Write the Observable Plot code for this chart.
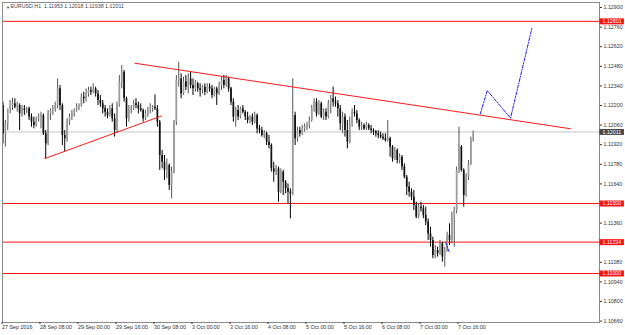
<!DOCTYPE html>
<html><head><meta charset="utf-8">
<script src="https://cdn.jsdelivr.net/npm/d3@7"></script>
<script src="https://cdn.jsdelivr.net/npm/@observablehq/plot@0.6"></script>
<style>html,body{margin:0;padding:0;background:#fff;} #chart svg{display:block}</style>
</head><body><div id="chart"></div>
<script>
// EURUSD H1 bars, 27 Sep 2016 16:00 -> 7 Oct 2016 22:00 (one value per hourly bar)
const open = [
1.12200,1.11998,1.12069,1.12176,1.12200,1.12212,1.12188,1.12200,1.12140,1.12176,
1.12164,1.12176,1.12117,1.12081,1.12057,1.12105,1.12117,1.12129,1.11998,1.11926,
1.12140,1.12164,1.12176,1.12200,1.12319,1.12200,1.11986,1.11962,1.12081,1.12117,
1.12140,1.12164,1.12188,1.12200,1.12260,1.12248,1.12283,1.12307,1.12295,1.12319,
1.12283,1.12236,1.12212,1.12176,1.12152,1.12129,1.12176,1.12105,1.12021,1.12200,
1.12367,1.12438,1.12248,1.12105,1.12164,1.12176,1.12212,1.12200,1.12176,1.12164,
1.12105,1.12140,1.12164,1.12176,1.12188,1.12176,1.12081,1.11843,1.11795,1.11736,
1.11771,1.11629,1.11724,1.12081,1.12379,1.12390,1.12283,1.12367,1.12331,1.12390,
1.12343,1.12319,1.12355,1.12319,1.12307,1.12331,1.12295,1.12331,1.12319,1.12271,
1.12319,1.12283,1.12343,1.12379,1.12343,1.12390,1.12319,1.12224,1.12117,1.12164,
1.12117,1.12176,1.12152,1.12117,1.12093,1.12117,1.12081,1.12129,1.12033,1.12021,
1.11986,1.11998,1.11938,1.11914,1.11748,1.11724,1.11748,1.11581,1.11724,1.11652,
1.11605,1.11581,1.11569,1.12129,1.11962,1.12021,1.11998,1.12033,1.12045,1.12057,
1.12093,1.12176,1.12224,1.12140,1.12212,1.12117,1.12152,1.12117,1.12212,1.12248,
1.12224,1.12212,1.12176,1.12069,1.12117,1.12021,1.11938,1.12069,1.12152,1.12140,
1.12093,1.12045,1.12057,1.12033,1.12057,1.12033,1.12021,1.12010,1.11998,1.11986,
1.11974,1.11962,1.11950,1.11962,1.11902,1.11819,1.11879,1.11807,1.11831,1.11760,
1.11688,1.11617,1.11581,1.11545,1.11486,1.11402,1.11474,1.11462,1.11414,1.11367,
1.11283,1.11236,1.11129,1.11164,1.11141,1.11212,1.11117,1.11164,1.11272,1.11236,
1.11414,1.11450,1.11736,1.11902,1.11736,1.11557,1.11688,1.11783,1.11953];
const high = [
1.12224,1.12093,1.12129,1.12236,1.12252,1.12248,1.12224,1.12212,1.12200,1.12200,
1.12188,1.12188,1.12140,1.12117,1.12117,1.12140,1.12152,1.12140,1.12021,1.12164,
1.12176,1.12200,1.12224,1.12390,1.12343,1.12212,1.12021,1.12105,1.12140,1.12164,
1.12176,1.12212,1.12212,1.12283,1.12295,1.12319,1.12331,1.12331,1.12355,1.12331,
1.12307,1.12271,1.12236,1.12200,1.12176,1.12200,1.12212,1.12140,1.12224,1.12414,
1.12486,1.12450,1.12260,1.12200,1.12200,1.12236,1.12248,1.12224,1.12212,1.12176,
1.12164,1.12188,1.12212,1.12200,1.12276,1.12200,1.12093,1.11879,1.11843,1.11819,
1.11783,1.11760,1.12093,1.12414,1.12510,1.12426,1.12402,1.12414,1.12426,1.12438,
1.12390,1.12379,1.12367,1.12355,1.12343,1.12355,1.12355,1.12355,1.12343,1.12331,
1.12331,1.12367,1.12402,1.12414,1.12414,1.12402,1.12331,1.12248,1.12188,1.12200,
1.12188,1.12200,1.12164,1.12152,1.12129,1.12140,1.12152,1.12140,1.12057,1.12045,
1.12021,1.12010,1.11986,1.11926,1.11795,1.11771,1.11760,1.11748,1.11736,1.11664,
1.11640,1.11605,1.12390,1.12152,1.12045,1.12045,1.12057,1.12069,1.12081,1.12117,
1.12200,1.12248,1.12248,1.12236,1.12224,1.12176,1.12176,1.12236,1.12272,1.12331,
1.12260,1.12236,1.12200,1.12152,1.12140,1.12093,1.12117,1.12176,1.12200,1.12164,
1.12105,1.12081,1.12069,1.12081,1.12069,1.12057,1.12033,1.12021,1.12021,1.12010,
1.11998,1.11998,1.12093,1.11974,1.11914,1.11902,1.11890,1.11855,1.11843,1.11783,
1.11700,1.11652,1.11605,1.11593,1.11510,1.11498,1.11510,1.11486,1.11474,1.11391,
1.11331,1.11260,1.11200,1.11188,1.11236,1.11224,1.11188,1.11295,1.11355,1.11438,
1.11474,1.11760,1.12045,1.11914,1.11748,1.11712,1.11807,1.11974,1.12018];
const low = [
1.11926,1.11902,1.12021,1.12140,1.12164,1.12176,1.12152,1.12021,1.12117,1.12129,
1.12140,1.12093,1.12045,1.12033,1.12045,1.12081,1.12033,1.11986,1.11819,1.11914,
1.12093,1.12129,1.12152,1.12176,1.12164,1.11914,1.11867,1.11938,1.12057,1.12093,
1.12117,1.12152,1.12164,1.12188,1.12212,1.12224,1.12260,1.12271,1.12283,1.12260,
1.12200,1.12188,1.12140,1.12117,1.12105,1.12117,1.12081,1.11974,1.11998,1.12188,
1.12319,1.12224,1.12045,1.12081,1.12140,1.12164,1.12176,1.12140,1.12152,1.12081,
1.12093,1.12117,1.12140,1.12152,1.12164,1.12045,1.11736,1.11748,1.11664,1.11676,
1.11593,1.11533,1.11712,1.12057,1.12331,1.12248,1.12271,1.12307,1.12283,1.12319,
1.12271,1.12295,1.12295,1.12260,1.12283,1.12271,1.12283,1.12295,1.12248,1.12260,
1.12200,1.12271,1.12307,1.12319,1.12331,1.12295,1.12200,1.12081,1.12045,1.12093,
1.12105,1.12140,1.12093,1.12069,1.12069,1.12057,1.12069,1.11998,1.11998,1.11974,
1.11962,1.11914,1.11890,1.11724,1.11652,1.11700,1.11510,1.11569,1.11557,1.11569,
1.11498,1.11390,1.11557,1.11914,1.11938,1.11974,1.11986,1.12010,1.12021,1.12033,
1.12081,1.12152,1.12117,1.12129,1.12105,1.12093,1.12093,1.12105,1.12140,1.12188,
1.12188,1.12117,1.12021,1.11998,1.11974,1.11890,1.11926,1.12045,1.12117,1.12069,
1.12021,1.12021,1.12021,1.12021,1.12021,1.11998,1.11986,1.11974,1.11962,1.11962,
1.11950,1.11938,1.11938,1.11831,1.11795,1.11807,1.11783,1.11783,1.11736,1.11676,
1.11557,1.11545,1.11521,1.11450,1.11391,1.11391,1.11438,1.11391,1.11343,1.11236,
1.11188,1.11105,1.11105,1.11117,1.11129,1.11081,1.11045,1.11152,1.11200,1.11212,
1.11188,1.11426,1.11712,1.11724,1.11474,1.11545,1.11664,1.11771,1.11938];
const close = [
1.11998,1.12069,1.12176,1.12200,1.12212,1.12188,1.12200,1.12140,1.12176,1.12164,
1.12176,1.12117,1.12081,1.12057,1.12105,1.12117,1.12129,1.11998,1.11926,1.12140,
1.12164,1.12176,1.12200,1.12319,1.12200,1.11986,1.11962,1.12081,1.12117,1.12140,
1.12164,1.12188,1.12200,1.12260,1.12248,1.12283,1.12307,1.12295,1.12319,1.12283,
1.12236,1.12212,1.12176,1.12152,1.12129,1.12176,1.12105,1.12021,1.12200,1.12367,
1.12438,1.12248,1.12105,1.12164,1.12176,1.12212,1.12200,1.12176,1.12164,1.12105,
1.12140,1.12164,1.12176,1.12188,1.12176,1.12081,1.11843,1.11795,1.11736,1.11771,
1.11629,1.11724,1.12081,1.12379,1.12390,1.12283,1.12367,1.12331,1.12390,1.12343,
1.12319,1.12355,1.12319,1.12307,1.12331,1.12295,1.12331,1.12319,1.12271,1.12319,
1.12283,1.12343,1.12379,1.12343,1.12390,1.12319,1.12224,1.12117,1.12164,1.12117,
1.12176,1.12152,1.12117,1.12093,1.12117,1.12081,1.12129,1.12033,1.12021,1.11986,
1.11998,1.11938,1.11914,1.11748,1.11724,1.11748,1.11581,1.11724,1.11652,1.11605,
1.11581,1.11569,1.12129,1.11962,1.12021,1.11998,1.12033,1.12045,1.12057,1.12093,
1.12176,1.12224,1.12140,1.12212,1.12117,1.12152,1.12117,1.12212,1.12248,1.12224,
1.12212,1.12176,1.12069,1.12117,1.12021,1.11938,1.12069,1.12152,1.12140,1.12093,
1.12045,1.12057,1.12033,1.12057,1.12033,1.12021,1.12010,1.11998,1.11986,1.11974,
1.11962,1.11950,1.11962,1.11902,1.11819,1.11879,1.11807,1.11831,1.11760,1.11688,
1.11617,1.11581,1.11545,1.11486,1.11402,1.11474,1.11462,1.11414,1.11367,1.11283,
1.11236,1.11129,1.11164,1.11141,1.11212,1.11117,1.11164,1.11272,1.11236,1.11414,
1.11450,1.11736,1.11902,1.11736,1.11557,1.11688,1.11783,1.11953,1.12011];

// time axis labels (bar index -> label)
const timeTickIndex = [0,16,32,48,64,80,96,112,128,144,160,176,192];
const timeTickLabels = ["27 Sep 2016","28 Sep 08:00","29 Sep 00:00","29 Sep 16:00","30 Sep 08:00",
  "3 Oct 00:00","3 Oct 16:00","4 Oct 08:00","5 Oct 00:00","5 Oct 16:00","6 Oct 08:00","7 Oct 00:00","7 Oct 16:00"];
// price axis ticks
const priceTicks = [1.10660,1.10800,1.10940,1.11080,1.11220,1.11360,1.11500,1.11640,1.11780,
  1.11920,1.12060,1.12200,1.12340,1.12480,1.12620,1.12760,1.12900];
// horizontal levels
const levelLines = [1.12801, 1.11500, 1.11224, 1.11000];
const lastPrice = 1.12011;
const headerSymbol = "EURUSD,H1";
const headerOHLC = "1.11953 1.12018 1.11938 1.12011";
// trend lines (bar index, price)
const supportIdx = [17.6, 66.7];
const supportPrice = [1.11821, 1.12125];
const resistIdx = [55.5, 238.9];
const resistPrice = [1.12502, 1.12034];
// projected path (blue dash-dot)
const projIdx = [201.0, 203.9, 213.7, 222.8];
const projPrice = [1.12141, 1.12307, 1.12110, 1.12759];
const smallIdx = [186.3, 188.0];
const smallPrice = [1.11224, 1.11148];

const X_DOMAIN = [-0.21, 251.16];
const Y_DOMAIN = [1.1065, 1.129357];
const FONT = "'Liberation Sans', Arial, sans-serif";

const bars = close.map((c, i) => ({i, o: open[i], h: high[i], l: low[i], c}));
const upBars = bars.filter(d => d.c >= d.o);
const downBars = bars.filter(d => d.c < d.o);
const toPts = (xs, ys) => xs.map((x, k) => ({x, y: ys[k]}));
const labelOf = new Map(timeTickIndex.map((d, k) => [d, timeTickLabels[k]]));

const chart = Plot.plot({
  width: 625, height: 335,
  marginLeft: 2, marginRight: 26, marginTop: 2, marginBottom: 13,
  x: {domain: X_DOMAIN},
  y: {domain: Y_DOMAIN},
  style: {fontFamily: FONT, background: "#fff", overflow: "visible"},
  marks: [
    Plot.ruleY(levelLines, {stroke: "#ff1010", strokeWidth: 1}),
    Plot.ruleY([lastPrice], {stroke: "#c4c4c4", strokeWidth: 1}),
    Plot.ruleX(upBars, {x: "i", y1: "l", y2: "h", stroke: "#555", strokeWidth: 1}),
    Plot.ruleX(downBars, {x: "i", y1: "l", y2: "h", stroke: "#000", strokeWidth: 1}),
    Plot.ruleX(upBars, {x: "i", y1: "o", y2: "c", stroke: "#9c9c9c", strokeWidth: 1.7}),
    Plot.ruleX(downBars, {x: "i", y1: "o", y2: "c", stroke: "#111", strokeWidth: 1.7}),
    Plot.line(toPts(supportIdx, supportPrice), {x: "x", y: "y", stroke: "#ff1a1a", strokeWidth: 1}),
    Plot.line(toPts(resistIdx, resistPrice), {x: "x", y: "y", stroke: "#ff1a1a", strokeWidth: 1}),
    Plot.line(toPts(projIdx, projPrice), {x: "x", y: "y", stroke: "#1a1aff", strokeWidth: 1, strokeDasharray: "3,1.5,1,1.5"}),
    Plot.line(toPts(smallIdx, smallPrice), {x: "x", y: "y", stroke: "#1a1aff", strokeWidth: 1, strokeDasharray: "3,1.5,1,1.5"}),
    Plot.frame({stroke: "#8a8a8a"}),
    Plot.axisY({ticks: priceTicks, anchor: "right", tickSize: 2, tickPadding: 2,
      tickFormat: d => d.toFixed(5), fontSize: 5.3, color: "#333", label: null}),
    Plot.axisX({ticks: timeTickIndex, anchor: "bottom", tickSize: 2, tickPadding: 1,
      tickFormat: d => labelOf.get(d), textAnchor: "start", dx: -1, fontSize: 5.4, color: "#333", label: null}),
    // level label boxes on price axis
    Plot.ruleY(levelLines, {y: d => d, x1: () => X_DOMAIN[1] + 0.15, x2: () => X_DOMAIN[1] + 10.5, stroke: "#ff1010", strokeWidth: 6}),
    Plot.text(levelLines, {x: () => X_DOMAIN[1], y: d => d, text: d => d.toFixed(5), textAnchor: "start", dx: 3, fill: "#fff", fontSize: 5.3}),
    Plot.ruleY([lastPrice], {y: d => d, x1: () => X_DOMAIN[1] + 0.15, x2: () => X_DOMAIN[1] + 10.5, stroke: "#4a4a4a", strokeWidth: 6}),
    Plot.text([lastPrice], {x: () => X_DOMAIN[1], y: d => d, text: d => d.toFixed(5), textAnchor: "start", dx: 3, fill: "#fff", fontSize: 5.3}),
    // header
    Plot.text(["\u25BC"], {frameAnchor: "top-left", dx: 3.5, dy: 3.2, text: d => d, fontSize: 4, fill: "#333", lineAnchor: "top", textAnchor: "start"}),
    Plot.text([headerSymbol + "  " + headerOHLC], {frameAnchor: "top-left", dx: 8, dy: 1.6, text: d => d, fontSize: 5.3, fill: "#444", lineAnchor: "top", textAnchor: "start"})
  ]
});
document.getElementById("chart").appendChild(chart);
</script>
</body></html>
